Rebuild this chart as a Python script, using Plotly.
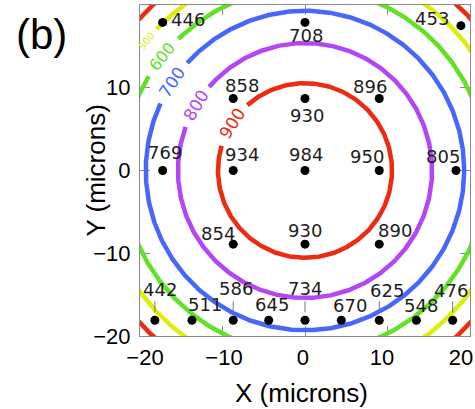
import numpy as np
import plotly.graph_objects as go

# Measured intensity at each probe position (x, y in microns)
pt_x = [-17.25, 0.0, 18.9,
        -8.7, 0.0, 9.0,
        -17.25, -8.7, 0.0, 9.0, 18.3,
        -8.7, 0.0, 9.0,
        -18.2, -13.7, -8.7, -4.4, 0.0, 4.4, 9.0, 13.5, 17.9]
pt_y = [17.9, 17.9, 17.5,
        8.7, 8.7, 8.7,
        0.0, 0.0, 0.0, 0.0, 0.0,
        -8.9, -8.9, -8.9,
        -18.1, -18.1, -18.1, -18.1, -18.1, -18.1, -18.1, -18.1, -18.1]
pt_val = [446, 708, 453,
          858, 930, 896,
          769, 934, 984, 950, 805,
          854, 930, 890,
          442, 511, 586, 645, 734, 670, 625, 548, 476]

# Fitted iso-intensity rings (centred on the origin)
levels = [900, 800, 700, 600, 500, 400]
level_radius = [10.55, 15.4, 19.3, 22.1, 24.8, 27.2]

# Axis ticks
y_ticks = [-20, -10, 0, 10, 20]
x_ticks = [-20, -10, 0, 10, 20]

# ---- styling ----
level_colors = ["#ec2b10", "#b446f5", "#4767fb", "#62e126", "#dcef0c", "#ec2b10"]
ring_label_angle = [147.5, 149.5, 146.5, 141.5, 141.0, None]   # deg, position of in-line label
ring_label_gap = [16.0, 10.5, 8.7, 7.5, 4.5, 0.0]              # deg, half-width of the break
ring_label_size = [17, 17, 17, 16, 10, 0]

# label offsets in pixels (dx right, dy up); leader=True draws a short vertical tick
label_dx = [25, 1, -29,
            9, 2, -9,
            2, 9, 1, -12, -13,
            -15, 0, 16,
            5, 13, 3, 3, 0, 9, 8, 5, -2]
label_dy = [3, -13, 7,
            13, -17, 12,
            18, 16, 16, 14, 14,
            11, 14, 14,
            31, 16, 32, 16, 32, 15, 30, 15, 30]
leader = [False, False, False,
          False, False, False,
          False, False, False, False, False,
          False, False, False,
          True, False, True, False, True, False, True, False, True]

tick_font = dict(family="Liberation Sans, Arial, sans-serif", size=22, color="black")
label_font = dict(family="DejaVu Sans, sans-serif", size=18, color="#1e1e1e")

fig = go.Figure()

# contour rings, broken where their value label sits
for lev, r, col, ang, gap in zip(levels, level_radius, level_colors,
                                 ring_label_angle, ring_label_gap):
    if ang is None:
        th = np.radians(np.arange(0, 360.5, 0.5))
    else:
        th = np.radians(np.arange(ang + gap, ang + 360 - gap + 0.01, 0.5))
    fig.add_trace(go.Scatter(
        x=r * np.cos(th), y=r * np.sin(th), mode="lines",
        line=dict(color=col, width=4.5), hoverinfo="skip", showlegend=False))

# probe positions
fig.add_trace(go.Scatter(
    x=pt_x, y=pt_y, mode="markers",
    marker=dict(color="black", size=9), showlegend=False, hoverinfo="skip"))

# helper trace so the tick-label axis is rendered
fig.add_trace(go.Scatter(
    x=x_ticks, y=[0] * len(x_ticks), xaxis="x2", mode="markers",
    marker=dict(opacity=0), showlegend=False, hoverinfo="skip"))

ann = []
# value labels on the rings
for lev, r, col, ang, fs in zip(levels, level_radius, level_colors,
                                ring_label_angle, ring_label_size):
    if ang is None:
        continue
    th = np.radians(ang)
    ann.append(dict(x=r * np.cos(th), y=r * np.sin(th), xref="x", yref="y",
                    text=str(lev), showarrow=False, textangle=-(ang - 90),
                    font=dict(family="DejaVu Sans, sans-serif", size=fs, color=col)))

# point value labels
for x, y, v, dx, dy, ld in zip(pt_x, pt_y, pt_val, label_dx, label_dy, leader):
    ann.append(dict(x=x, y=y, xref="x", yref="y", text=str(v), showarrow=False,
                    xshift=dx, yshift=dy, font=label_font))
    if ld:
        ann.append(dict(x=x, y=y, xref="x", yref="y", text=" ", showarrow=True,
                        ax=0, ay=-21, axref="pixel", ayref="pixel",
                        arrowhead=0, arrowwidth=1, arrowcolor="#777777",
                        standoff=8, font=dict(size=1)))

# axis titles and panel tag
ann.append(dict(x=0.489, y=-0.171, xref="paper", yref="paper", text="X (microns)",
                showarrow=False, xanchor="center", yanchor="middle",
                font=dict(family="Liberation Sans, Arial, sans-serif", size=26, color="black")))
ann.append(dict(x=-0.136, y=0.5, xref="paper", yref="paper", text="Y (microns)",
                showarrow=False, textangle=-90, xanchor="center", yanchor="middle",
                font=dict(family="Liberation Sans, Arial, sans-serif", size=26, color="black")))
ann.append(dict(x=-0.297, y=0.912, xref="paper", yref="paper", text="(b)",
                showarrow=False, xanchor="center", yanchor="middle",
                font=dict(family="Liberation Sans, Arial, sans-serif", size=42, color="black")))

axis_common = dict(range=[-20, 20], showgrid=False, zeroline=False,
                   ticks="inside", ticklen=10, tickcolor="#8a8a8a", tickwidth=1,
                   showline=True, linecolor="#8a8a8a", linewidth=1, mirror="ticks",
                   layer="below traces", automargin=False)

fig.update_layout(
    width=475, height=409,
    margin=dict(l=140, r=5, t=5, b=73),
    paper_bgcolor="white", plot_bgcolor="white",
    xaxis=dict(**axis_common, tickvals=x_ticks, showticklabels=False),
    xaxis2=dict(overlaying="x", side="bottom", range=[-20.63, 21.14],
                tickvals=x_ticks, showgrid=False, zeroline=False, showline=False,
                ticks="", tickfont=tick_font, ticklabelstandoff=6, automargin=False),
    yaxis=dict(**axis_common, tickvals=y_ticks, tickfont=tick_font,
               ticklabelstandoff=4),
    annotations=ann,
)

fig.write_html("out.html")
